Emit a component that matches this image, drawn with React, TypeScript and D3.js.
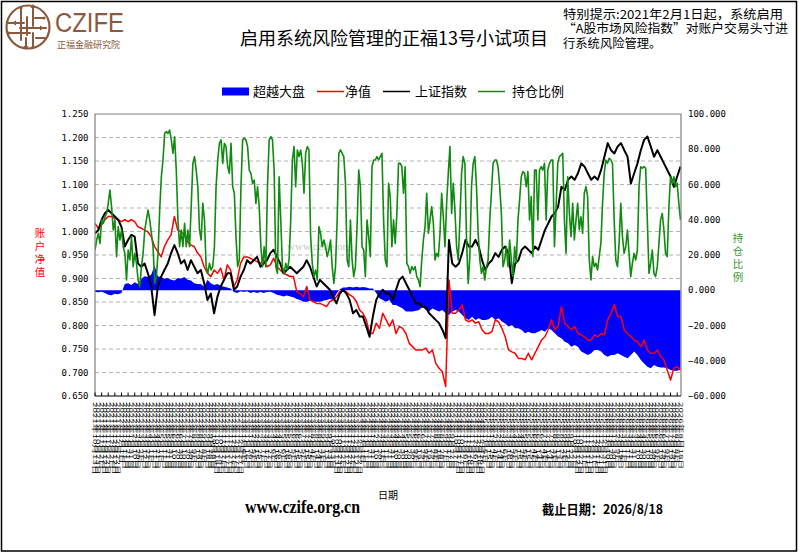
import React from 'react';
import * as d3 from 'd3';

// ---------------- DATA ----------------
// 净值 (left axis)
const netValue: number[] = [
  1.017, 1.007, 1.014, 1.025, 1.032, 1.032, 1.028, 1.025, 1.021, 1.025,
  1.021, 1.025, 1.021, 1.010, 1.007, 1.003, 0.999, 0.989, 0.968, 0.957,
  0.946, 0.968, 0.982, 0.993, 1.032, 1.003, 0.999, 0.993, 0.978, 0.971,
  0.968, 0.954, 0.946, 0.925, 0.911, 0.904, 0.918, 0.911, 0.922, 0.897,
  0.929, 0.918, 0.883, 0.897, 0.932,
  0.946, 0.946, 0.943, 0.939, 0.936, 0.932, 0.939, 0.925, 0.929, 0.943,
  0.925, 0.918, 0.911, 0.908, 0.904, 0.904, 0.872, 0.868, 0.861, 0.883,
  0.854, 0.851, 0.847, 0.847, 0.844, 0.840, 0.851, 0.854, 0.861, 0.872,
  0.876, 0.872, 0.865, 0.861, 0.851, 0.833, 0.826, 0.812, 0.783, 0.783,
  0.805, 0.794, 0.826, 0.812,
  0.798, 0.812, 0.783, 0.798, 0.794, 0.783, 0.762, 0.755, 0.748, 0.748,
  0.748, 0.752, 0.741, 0.748, 0.720, 0.709, 0.702, 0.670, 0.897, 0.826,
  0.826, 0.833, 0.844, 0.812, 0.808, 0.812, 0.805, 0.808, 0.791, 0.783,
  0.783, 0.787, 0.812, 0.808, 0.794, 0.776, 0.748, 0.744, 0.741, 0.730,
  0.730, 0.727, 0.741, 0.727,
  0.741, 0.755, 0.769, 0.776, 0.791, 0.812, 0.791, 0.798, 0.840, 0.805,
  0.798, 0.791, 0.798, 0.783, 0.780, 0.776, 0.769, 0.769, 0.780, 0.776,
  0.783, 0.780, 0.812, 0.826, 0.844, 0.819, 0.819, 0.791, 0.783, 0.776,
  0.769, 0.766, 0.755, 0.769, 0.748, 0.741, 0.741, 0.748, 0.734, 0.727,
  0.705, 0.684, 0.709, 0.712, 0.705,
];

// 上证指数 (normalised, left axis)
const indexValue: number[] = [
  0.996, 1.003, 1.025, 1.039, 1.046, 1.039, 1.032, 1.025, 1.010, 0.968,
  0.982, 0.993, 0.989, 0.932, 0.925, 0.932, 0.911, 0.883, 0.822, 0.883,
  0.904, 0.918, 0.932, 0.954, 0.971, 0.954, 0.932, 0.939, 0.918, 0.939,
  0.925, 0.911, 0.918, 0.890, 0.854, 0.868, 0.826, 0.861, 0.883, 0.897,
  0.911, 0.911, 0.876, 0.883, 0.904,
  0.918, 0.939, 0.932, 0.939, 0.946, 0.925, 0.932, 0.939, 0.954, 0.961,
  0.946, 0.932, 0.911, 0.918, 0.925, 0.918, 0.911, 0.918, 0.925, 0.939,
  0.925, 0.904, 0.883, 0.897, 0.890, 0.883, 0.876, 0.861, 0.847, 0.868,
  0.876, 0.868, 0.854, 0.826, 0.833, 0.819, 0.819, 0.798, 0.776, 0.819,
  0.854, 0.868, 0.876, 0.868,
  0.868, 0.854, 0.876, 0.897, 0.904, 0.890, 0.876, 0.861, 0.847, 0.847,
  0.840, 0.840, 0.826, 0.819, 0.812, 0.805, 0.791, 0.773, 0.982, 0.932,
  0.925, 0.932, 0.954, 0.982, 0.968, 0.968, 0.982, 0.968, 0.939, 0.918,
  0.932, 0.939, 0.954, 0.946, 0.961, 0.968, 0.954, 0.890, 0.932, 0.939,
  0.961, 0.968, 0.961, 0.954,
  0.968, 0.961, 0.982, 1.003, 1.017, 1.032, 1.039, 1.053, 1.095, 1.088,
  1.110, 1.117, 1.110, 1.124, 1.145, 1.138, 1.124, 1.110, 1.117, 1.110,
  1.131, 1.159, 1.188, 1.173, 1.166, 1.181, 1.188, 1.173, 1.159, 1.102,
  1.124, 1.145, 1.173, 1.195, 1.202, 1.181, 1.159, 1.173, 1.159, 1.145,
  1.131, 1.117, 1.095, 1.117, 1.138,
];

// 超越大盘 (right axis, area)
const excess: number[] = [
  -1.0, -1.2, -0.8, -1.5, -2.5, -2.8, -2.0, -2.2, -1.5, 3.5,
  4.0, 3.0, 4.5, 3.5, 6.5, 8.0, 7.5, 9.0, 14.0, 8.0,
  7.5, 6.5, 7.0, 6.0, 5.5, 7.0, 6.5, 7.5, 6.0, 5.5,
  4.0, 3.5, 3.5, 2.0, 6.0, 4.0, 3.0, 3.5, 2.5, 2.0,
  1.5, 1.0, -1.0, -1.5, -0.5,
  -1.0, -0.5, -1.5, -1.0, -1.5, -1.0, -1.5, -1.0, -0.8, -1.5,
  -2.5, -3.0, -3.5, -3.0, -3.5, -4.0, -5.0, -5.5, -6.5, -6.5,
  -6.0, -6.5, -6.5, -6.5, -6.0, -5.5, -5.0, -5.5, -2.0, 0.5,
  1.5, 1.5, 2.0, 1.5, 2.0, 1.5, 1.8, 1.5, 1.0, 1.0,
  -1.5, -4.5, -5.5, -6.5,
  -5.5, -8.4, -8.4, -9.3, -10.3, -12.1, -12.1, -12.1, -11.6, -11.2,
  -9.3, -11.2, -12.1, -10.3, -11.2, -12.1, -11.2, -13.1, -14.0, -12.1,
  -11.2, -12.1, -14.0, -15.9, -16.9, -15.0, -16.9, -15.9, -16.9, -16.9,
  -16.5, -15.0, -16.9, -15.9, -17.8, -18.8, -20.6, -19.7, -21.6, -21.6,
  -22.6, -24.4, -23.5, -24.4,
  -24.4, -23.5, -22.6, -23.5, -21.6, -22.6, -24.4, -26.3, -27.3, -29.2,
  -30.1, -32.0, -31.1, -32.0, -34.8, -35.8, -36.7, -35.8, -33.9, -33.9,
  -34.8, -36.7, -37.7, -36.7, -36.7, -35.8, -36.7, -37.7, -38.6, -36.7,
  -34.8, -36.7, -39.6, -41.5, -43.4, -44.3, -42.4, -43.4, -43.8, -43.8,
  -44.3, -45.3, -45.7, -45.7, -44.9,
];

// 持仓比例 (right axis, sampled twice as densely)
const position: number[] = [
  22.8, 28.5, 32.3, 26.6, 39.9, 38.0, 41.7, 43.6, 49.3, 56.9,
  47.4, 34.2, 39.9, 19.1, 36.1, 28.5, 34.2, 24.7, 20.9, 5.8,
  22.8, 17.2, 30.4, 13.4, 20.9, 15.3, 5.8, 2.0, 13.4, 20.9,
  34.2, 39.9, 45.5, 39.9, 32.3, 24.7, 3.9, 7.7, 20.9, 45.5,
  64.4, 73.9, 89.0, 90.0, 89.0, 90.9, 85.3, 77.7, 87.1, 68.2,
  39.9, 24.7, 34.2, 24.7, 38.0, 24.7, 34.2, 24.7, 47.4, 72.0,
  75.8, 68.2, 58.8, 34.2, 28.5, 49.3, 39.9, 13.4, 9.6, 15.3,
  11.5, 13.4, 24.7, 58.8, 73.9, 83.4, 85.3, 72.0, 83.4, 81.5,
  70.1, 66.3, 83.4, 58.8, 55.0, 30.4, 13.4, 17.2, 58.8,
  85.3, 86.2, 85.3, 81.5, 68.2, 66.3, 60.7, 62.5, 49.3, 58.8,
  47.4, 24.7, 13.4, 24.7, 13.4, 58.8, 85.3, 87.1, 85.3, 68.2,
  13.4, 9.6, 64.4, 39.9, 13.4, 9.6, 15.3, 11.5, 17.2, 39.9,
  73.9, 81.5, 58.8, 79.6, 75.8, 79.6, 72.0, 55.0, 77.7, 81.5,
  79.6, 30.4, 15.3, 7.7, 11.5, 5.8, 36.1, 32.3, 24.7, 28.5,
  24.7, 19.1, 22.8, 28.5, 13.4, 3.9, 13.4, 39.9, 77.7, 79.6,
  77.7, 75.8, 60.7, 17.2, 13.4, 39.9, 17.2, 7.7, 13.4, 36.1,
  68.2, 58.8, 24.7, 22.8, 7.7, 39.9, 30.4, 19.1, 70.1, 73.9,
  73.9, 75.8, 73.9, 75.8, 77.7, 39.9, 17.2, 13.4,
  60.7, 53.1, 24.7, 39.9, 26.6, 43.6, 72.0, 72.0, 70.1, 55.0,
  70.1, 15.3, 13.4, 9.6, 13.4, 11.5, 13.4, 7.7, 5.8, 2.0,
  17.2, 28.5, 36.1, 55.0, 32.3, 39.9, 47.4, 38.0, 17.2, 20.9,
  19.1, 32.3, 55.0, 41.7, 24.7, 49.3, 66.3, 81.5, 43.6, 60.7,
  45.5, 24.7, 17.2, 39.9, 66.3, 75.8, 72.0, 28.5, 3.9, 19.1,
  58.8, 72.0, 75.8, 58.8, 32.3, 17.2, 9.6, 13.4, 5.8, 13.4,
  17.2, 39.9, 55.0, 72.0, 73.9, 73.9, 70.1, 58.8, 43.6, 13.4,
  17.2, 24.7, 13.4, 28.5, 17.2, 7.7, 24.7, 15.3, 39.9, 51.2,
  64.4, 67.3, 66.3, 58.8, 67.3, 39.9, 53.1, 19.1,
  68.2, 68.2, 39.9, 68.2, 70.1, 68.2, 72.0, 39.9, 68.2, 72.0,
  73.9, 73.9, 24.7, 47.4, 72.0, 75.8, 76.7, 77.7, 39.9, 20.9,
  64.4, 43.6, 30.4, 49.3, 28.5, 39.9, 49.3, 34.2, 41.7, 32.3,
  55.0, 58.8, 53.1, 17.2, 5.8, 19.1, 13.4, 15.3, 11.5, 19.1,
  26.6, 49.3, 66.3, 73.9, 72.0, 74.9, 73.9, 72.0, 39.9, 17.2,
  13.4, 26.6, 49.3, 30.4, 20.9, 24.7, 34.2, 20.9, 7.7, 15.3,
  20.9, 17.2, 22.8, 58.8, 70.1, 69.2, 70.1, 69.2, 39.9, 9.6,
  15.3, 22.8, 9.6, 7.7, 13.4, 26.6, 39.9, 43.6, 34.2, 20.9,
  19.1, 47.4, 64.4, 60.7, 64.4, 58.8, 60.7, 49.3, 39.9,
];

const leftTicks: number[] = [0.65, 0.7, 0.75, 0.8, 0.85, 0.9, 0.95, 1.0, 1.05, 1.1, 1.15, 1.2, 1.25];
const rightTicks: number[] = [-60, -40, -20, 0, 20, 40, 60, 80, 100];

// category labels (one per sample), ending at the cut-off date
const endDate = new Date(2026, 7, 18);
const fmtDate = d3.timeFormat('%Y年%-m月%-d日');
const dateLabels: string[] = netValue.map((_, i) =>
  fmtDate(d3.timeDay.offset(endDate, -(netValue.length - 1 - i) * 10))
);

const legendItems = [
  { label: '超越大盘', color: '#0000ff', kind: 'rect' },
  { label: '净值', color: '#ff0000', kind: 'line' },
  { label: '上证指数', color: '#000000', kind: 'line' },
  { label: '持仓比例', color: '#108a10', kind: 'line' },
];

const noteLines: string[] = [
  '特别提示:2021年2月1日起，系统启用',
  '“A股市场风险指数”对账户交易头寸进',
  '行系统风险管理。',
];

// ---------------- CHART ----------------
const CJK = '"Noto Sans CJK SC", "Noto Sans", sans-serif';
const MONO = '"DejaVu Sans Mono", monospace';
const BROWN = '#8B5A3C';

export default function App() {
  const L = 95, R = 681, T = 114, B = 396;
  const x = d3.scaleLinear().domain([0, netValue.length - 1]).range([L, R - 0.5]);
  const xg = d3.scaleLinear().domain([0, position.length - 1]).range([L, R - 0.5]);
  const yL = d3.scaleLinear().domain([0.65, 1.25]).range([B, T]);
  const yR = d3.scaleLinear().domain([-60, 100]).range([B, T]);
  const f3 = d3.format('.3f');

  const areaGen = d3.area<number>().x((_, i) => x(i)).y0(yR(0)).y1((d) => yR(d));
  const lineL = d3.line<number>().x((_, i) => x(i)).y((d) => yL(d));
  const lineG = d3.line<number>().x((_, i) => xg(i)).y((d) => yR(d));

  const legendX = [222, 317, 383, 478];
  const legendTextX = [253, 345, 415, 512];
  const noteLen = [220, 225, undefined];

  return (
    <div style={{ position: 'absolute', left: 0, top: 0 }}>
      <svg width={799} height={554} style={{ display: 'block', background: '#fff' }}>
        <rect x={0} y={0} width={799} height={554} fill="#fff" />
        <rect x={1.5} y={1.5} width={795} height={549.5} fill="none" stroke="#000" strokeWidth={1.5} />

        {/* logo */}
        <g stroke={BROWN} fill="none" strokeLinecap="round">
          <circle cx={28} cy={27} r={21.5} strokeWidth={2.2} />
          <path d="M 21 8 V 40 M 27 17 V 35 M 33 6 V 26 M 26 38 V 48 M 33 33 V 47" strokeWidth={2} />
          <path d="M 8 23 H 24 M 20 28 H 46 M 9 33 H 30 M 35 18 H 44 M 36 38 H 45" strokeWidth={2} />
        </g>
        <g fill={BROWN}>
          <path d="M 33 4 l -2.5 4 h 5 z" />
          <path d="M 26 50 l -2.5 -4 h 5 z" />
          <path d="M 12 23 l 4 -2.5 v 5 z" />
          <path d="M 44 28 l -4 -2.5 v 5 z" />
          <circle cx={21} cy={8} r={1.6} />
          <circle cx={9} cy={33} r={1.6} />
          <circle cx={44} cy={18} r={1.6} />
          <circle cx={33} cy={47} r={1.6} />
        </g>
        <text x={55} y={31.5} fontFamily='"Liberation Sans", Arial, sans-serif' fontSize={27}
          fill={BROWN} textLength={69} lengthAdjust="spacingAndGlyphs">CZIFE</text>
        <text x={57} y={47.5} fontFamily={CJK} fontSize={9} fill={BROWN}>正福金融研究院</text>

        {/* title */}
        <text x={394} y={45} textAnchor="middle" fontFamily={CJK} fontSize={18} fill="#000">
          启用系统风险管理的正福13号小试项目
        </text>

        {/* note (one text block, three lines) */}
        <text fontFamily={CJK} fontSize={12.3} fill="#000">
          {noteLines.map((t, i) => (
            <tspan key={i} x={563} y={18.5 + i * 14.6}
              {...(noteLen[i] ? { textLength: noteLen[i], lengthAdjust: 'spacingAndGlyphs' } : {})}>
              {t}
            </tspan>
          ))}
        </text>

        {/* legend */}
        {legendItems.map((it, i) => (
          <g key={it.label}>
            {it.kind === 'rect' ? (
              <rect x={legendX[i]} y={87.5} width={27} height={8} fill={it.color} />
            ) : (
              <line x1={legendX[i]} x2={legendX[i] + 27} y1={91.5} y2={91.5} stroke={it.color} strokeWidth={1.5} />
            )}
            <text x={legendTextX[i]} y={96} fontFamily={CJK} fontSize={13} fill="#000">{it.label}</text>
          </g>
        ))}

        {/* gridlines */}
        {leftTicks.slice(1, -1).map((t) => (
          <line key={t} x1={L} x2={R} y1={yL(t)} y2={yL(t)} stroke="#b4b4b4" strokeDasharray="4 3" strokeWidth={1} />
        ))}

        {/* watermark */}
        <text x={287} y={250} fontFamily='"Liberation Serif", serif' fontSize={11} fill="#c8c8c8">www.czife.org</text>

        {/* series */}
        <clipPath id="plotClip">
          <rect x={L} y={T} width={R - L} height={B - T} />
        </clipPath>
        <g clipPath="url(#plotClip)">
          <path d={areaGen(excess) || ''} fill="#0000ff" />
          <path d={lineL(netValue) || ''} fill="none" stroke="#ff0000" strokeWidth={1.5} strokeLinejoin="round" />
          <path d={lineL(indexValue) || ''} fill="none" stroke="#000" strokeWidth={2} strokeLinejoin="round" />
          <path d={lineG(position) || ''} fill="none" stroke="#108a10" strokeWidth={1.6} strokeLinejoin="round" />
        </g>

        {/* frame */}
        <path d={`M ${L} ${B} V ${T} H ${R} V ${B}`} fill="none" stroke="#808080" strokeWidth={1.2} />
        <line x1={L} x2={R} y1={B} y2={B} stroke="#000" strokeWidth={1.2} />
        {netValue.map((_, i) => (i % 2 === 0 ? (
          <line key={i} x1={x(i)} x2={x(i)} y1={B} y2={B - 3.5} stroke="#000" strokeWidth={1} />
        ) : null))}

        {/* left axis labels */}
        {leftTicks.map((t) => (
          <text key={t} x={88.5} y={yL(t)} dy="0.35em" textAnchor="end" fontFamily={MONO} fontSize={9} fill="#000">
            {f3(t)}
          </text>
        ))}
        {/* right axis labels */}
        {rightTicks.map((t) => (
          <text key={t} x={688} y={yR(t)} dy="0.35em" textAnchor="start" fontFamily={MONO} fontSize={9} fill="#000">
            {f3(t)}
          </text>
        ))}

        {/* axis titles (vertical writing) */}
        <text x={40} y={228} fontFamily={CJK} fontSize={10.5} fill="#ff0000"
          style={{ writingMode: 'vertical-rl', letterSpacing: '2.3px' } as React.CSSProperties}>账户净值</text>
        <text x={738} y={233} fontFamily={CJK} fontSize={10.5} fill="#339933"
          style={{ writingMode: 'vertical-rl', letterSpacing: '2.5px' } as React.CSSProperties}>持仓比例</text>

        {/* category labels */}
        {dateLabels.map((d, i) => (
          <text key={i} transform={`translate(${x(i)},402) rotate(90) scale(1,0.55)`} dy="0.35em"
            fontFamily={CJK} fontSize={9.8} fill="#000">{d}</text>
        ))}

        <text x={388} y={499} textAnchor="middle" fontFamily={CJK} fontSize={10} fill="#000">日期</text>

        <text x={245} y={513} fontFamily='"Liberation Serif", serif' fontWeight="bold" fontSize={18}
          textLength={115} lengthAdjust="spacingAndGlyphs" fill="#000">www.czife.org.cn</text>
        <text x={542} y={514} fontFamily={CJK} fontWeight="bold" fontSize={13}
          textLength={121} lengthAdjust="spacingAndGlyphs" fill="#000">截止日期：2026/8/18</text>
      </svg>
    </div>
  );
}
